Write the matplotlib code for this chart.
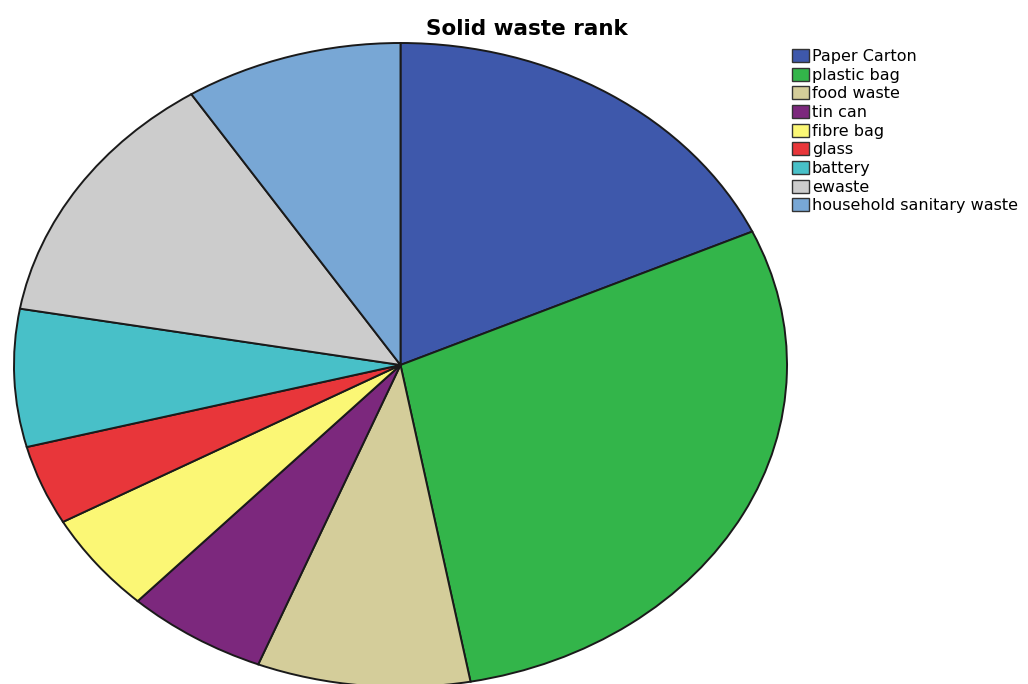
import matplotlib.pyplot as plt
from matplotlib.patches import Patch

plt.rcParams["font.family"] = ["DejaVu Sans"]

CATEGORIES = [
    "Paper Carton",
    "plastic bag",
    "food waste",
    "tin can",
    "fibre bag",
    "glass",
    "battery",
    "ewaste",
    "household sanitary waste",
]
PERCENT = [18.2, 28.9, 8.9, 5.9, 5.0, 4.0, 6.9, 13.1, 9.1]
COLORS = [
    "#3e58ab",
    "#33b54a",
    "#d4cd9a",
    "#7c287d",
    "#fbf775",
    "#e8363a",
    "#48c0c8",
    "#cccccc",
    "#78a7d5",
]

W, H = 1028, 684


def main() -> None:
    fig = plt.figure(figsize=(W / 100, H / 100), dpi=100)

    # stretched pie: axes box sized to the ellipse, aspect left free
    cx, cy, rx, ry = 400.5, 365, 386.5, 322
    ax = fig.add_axes([(cx - rx) / W, (H - cy - ry) / H, 2 * rx / W, 2 * ry / H])
    ax.pie(
        PERCENT,
        colors=COLORS,
        startangle=90,
        counterclock=False,
        radius=1.0,
        wedgeprops={"edgecolor": "#1a1a1a", "linewidth": 1.4},
    )
    ax.set_aspect("auto")
    ax.set_xlim(-1, 1)
    ax.set_ylim(-1, 1)
    ax.axis("off")

    fig.text(527 / W, 1 - 29 / H, "Solid waste rank", ha="center", va="center",
             fontsize=15.5, fontweight="bold")

    handles = [Patch(facecolor=c, edgecolor="#333333", linewidth=1.0) for c in COLORS]
    fig.legend(
        handles,
        CATEGORIES,
        loc="upper left",
        bbox_to_anchor=(792 / W, 1 - 49 / H),
        frameon=False,
        fontsize=11.5,
        handlelength=1.05,
        handleheight=0.85,
        handletextpad=0.2,
        labelspacing=0.23,
        borderaxespad=0,
        borderpad=0,
    )

    fig.savefig("out.png", dpi=100)
    plt.close(fig)


if __name__ == "__main__":
    main()
